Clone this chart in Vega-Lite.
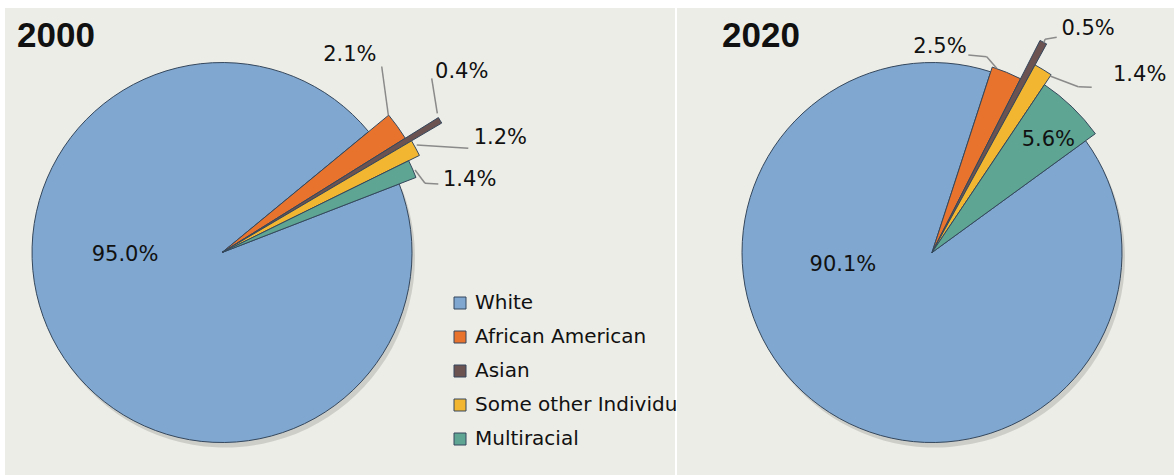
{
  "$schema": "https://vega.github.io/schema/vega-lite/v6.json",
  "background": "#ffffff",
  "padding": {"left": 5, "top": 8, "right": 0, "bottom": 0},
  "bounds": "flush",
  "spacing": 2,
  "config": {
    "view": {"fill": "#EDEDE7", "stroke": null},
    "font": "DejaVu Sans"
  },
  "datasets": {
    "race": [
      {"year": "2000", "race": "White", "pct": 95.0, "order": 1},
      {"year": "2000", "race": "African American", "pct": 2.1, "order": 2},
      {"year": "2000", "race": "Asian", "pct": 0.4, "order": 3},
      {"year": "2000", "race": "Some other Individuals", "pct": 1.2, "order": 4},
      {"year": "2000", "race": "Multiracial", "pct": 1.4, "order": 5},
      {"year": "2020", "race": "White", "pct": 90.1, "order": 1},
      {"year": "2020", "race": "African American", "pct": 2.5, "order": 2},
      {"year": "2020", "race": "Asian", "pct": 0.5, "order": 3},
      {"year": "2020", "race": "Some other Individuals", "pct": 1.4, "order": 4},
      {"year": "2020", "race": "Multiracial", "pct": 5.6, "order": 5}
    ]
  },
  "resolve": {"legend": {"color": "independent"}, "scale": {"theta": "independent", "x": "independent", "y": "independent"}},
  "hconcat": [
    {
      "width": 670,
      "height": 467,
      "data": {"name": "race"},
      "transform": [
        {"filter": "datum.year == '2000'"},
        {"stack": "pct", "groupby": ["year"], "sort": [{"field": "order", "order": "ascending"}], "as": ["s0", "s1"]},
        {"calculate": "(datum.s0 + datum.s1) / 2", "as": "mid"},
        {"calculate": "format(datum.pct, '.1f') + '%'", "as": "label"}
      ],
      "encoding": {
        "x": {"field": "year", "type": "nominal", "scale": {"type": "point", "padding": 0, "align": 0.3239}, "axis": null},
        "y": {"field": "year", "type": "nominal", "scale": {"type": "point", "padding": 0, "align": 0.5236}, "axis": null}
      },
      "layer": [
        {
          "transform": [{"filter": "datum.race == 'White'"}],
          "mark": {"type": "arc", "radius": 190, "fill": "#000000", "opacity": 0.13, "xOffset": 3, "yOffset": 5},
          "encoding": {
            "theta": {"field": "s0", "type": "quantitative", "stack": null, "scale": {"domain": [0, 100.1], "range": [1.2015, 7.4847]}},
            "theta2": {"field": "s1"}
          }
        },
        {
          "transform": [{"filter": "datum.race == 'White'"}],
          "mark": {"type": "arc", "radius": 190, "stroke": "#34475c", "strokeWidth": 1},
          "encoding": {
            "theta": {"field": "s0", "type": "quantitative", "stack": null, "scale": {"domain": [0, 100.1], "range": [1.2015, 7.4847]}},
            "theta2": {"field": "s1"},
            "color": {"field": "race", "type": "nominal", "scale": {"domain": ["White", "African American", "Asian", "Some other Individuals", "Multiracial"], "range": ["#7FA7D0", "#E8732C", "#6B5352", "#F2B631", "#5EA593"]},
              "legend": {"orient": "none", "legendX": 445, "legendY": 285, "title": null, "symbolType": "square", "symbolSize": 144, "labelFontSize": 20, "labelFont": "DejaVu Sans", "labelColor": "#111111", "rowPadding": 14, "labelLimit": 500, "labelOffset": 5, "symbolStrokeColor": "#777777", "symbolStrokeWidth": 1}}
          }
        },
        {
          "transform": [{"filter": "datum.race == 'African American'"}],
          "mark": {"type": "arc", "radius": 216, "stroke": "#34475c", "strokeWidth": 1},
          "encoding": {
            "theta": {"field": "s0", "type": "quantitative", "stack": null, "scale": {"domain": [0, 100.1], "range": [1.2015, 7.4847]}},
            "theta2": {"field": "s1"},
            "color": {"field": "race", "type": "nominal"}
          }
        },
        {
          "transform": [{"filter": "datum.race == 'Asian'"}],
          "mark": {"type": "arc", "radius": 255, "stroke": "#34475c", "strokeWidth": 1},
          "encoding": {
            "theta": {"field": "s0", "type": "quantitative", "stack": null, "scale": {"domain": [0, 100.1], "range": [1.2015, 7.4847]}},
            "theta2": {"field": "s1"},
            "color": {"field": "race", "type": "nominal"}
          }
        },
        {
          "transform": [{"filter": "datum.race == 'Some other Individuals'"}],
          "mark": {"type": "arc", "radius": 220, "stroke": "#34475c", "strokeWidth": 1},
          "encoding": {
            "theta": {"field": "s0", "type": "quantitative", "stack": null, "scale": {"domain": [0, 100.1], "range": [1.2015, 7.4847]}},
            "theta2": {"field": "s1"},
            "color": {"field": "race", "type": "nominal"}
          }
        },
        {
          "transform": [{"filter": "datum.race == 'Multiracial'"}],
          "mark": {"type": "arc", "radius": 208, "stroke": "#34475c", "strokeWidth": 1},
          "encoding": {
            "theta": {"field": "s0", "type": "quantitative", "stack": null, "scale": {"domain": [0, 100.1], "range": [1.2015, 7.4847]}},
            "theta2": {"field": "s1"},
            "color": {"field": "race", "type": "nominal"}
          }
        },
        {
          "transform": [{"filter": "datum.race == 'White'"}],
          "mark": {"type": "rule", "color": "#8a8a8a", "strokeWidth": 1.5, "xOffset": 159.7, "yOffset": -186, "x2Offset": 166.3, "y2Offset": -137.5},
          "encoding": {"x2": {"field": "year"}, "y2": {"field": "year"}}
        },
        {
          "transform": [{"filter": "datum.race == 'White'"}],
          "mark": {"type": "rule", "color": "#8a8a8a", "strokeWidth": 1.5, "xOffset": 209.7, "yOffset": -174.2, "x2Offset": 215.3, "y2Offset": -139.2},
          "encoding": {"x2": {"field": "year"}, "y2": {"field": "year"}}
        },
        {
          "transform": [{"filter": "datum.race == 'White'"}],
          "mark": {"type": "rule", "color": "#8a8a8a", "strokeWidth": 1.5, "xOffset": 246.3, "yOffset": -104.2, "x2Offset": 194.7, "y2Offset": -107.5},
          "encoding": {"x2": {"field": "year"}, "y2": {"field": "year"}}
        },
        {
          "transform": [{"filter": "datum.race == 'White'"}],
          "mark": {"type": "rule", "color": "#8a8a8a", "strokeWidth": 1.5, "xOffset": 216.3, "yOffset": -68.5, "x2Offset": 203, "y2Offset": -69.2},
          "encoding": {"x2": {"field": "year"}, "y2": {"field": "year"}}
        },
        {
          "transform": [{"filter": "datum.race == 'White'"}],
          "mark": {"type": "rule", "color": "#8a8a8a", "strokeWidth": 1.5, "xOffset": 203, "yOffset": -69.2, "x2Offset": 193, "y2Offset": -82.5},
          "encoding": {"x2": {"field": "year"}, "y2": {"field": "year"}}
        },
        {
          "transform": [{"filter": "datum.race == 'White'"}],
          "mark": {"type": "text", "radius": 97, "thetaOffset": 0.503, "fontSize": 21, "color": "#111111", "align": "center", "baseline": "middle"},
          "encoding": {"theta": {"field": "mid", "type": "quantitative", "scale": {"domain": [0, 100.1], "range": [1.2015, 7.4847]}}, "text": {"field": "label"}}
        },
        {
          "transform": [{"filter": "datum.race == 'African American'"}],
          "mark": {"type": "text", "radius": 235, "thetaOffset": -0.372, "fontSize": 21, "color": "#111111", "align": "center", "baseline": "middle"},
          "encoding": {"theta": {"field": "mid", "type": "quantitative", "scale": {"domain": [0, 100.1], "range": [1.2015, 7.4847]}}, "text": {"field": "label"}}
        },
        {
          "transform": [{"filter": "datum.race == 'Asian'"}],
          "mark": {"type": "text", "radius": 300, "thetaOffset": -0.1, "fontSize": 21, "color": "#111111", "align": "center", "baseline": "middle"},
          "encoding": {"theta": {"field": "mid", "type": "quantitative", "scale": {"domain": [0, 100.1], "range": [1.2015, 7.4847]}}, "text": {"field": "label"}}
        },
        {
          "transform": [{"filter": "datum.race == 'Some other Individuals'"}],
          "mark": {"type": "text", "radius": 301, "thetaOffset": 0.104, "fontSize": 21, "color": "#111111", "align": "center", "baseline": "middle"},
          "encoding": {"theta": {"field": "mid", "type": "quantitative", "scale": {"domain": [0, 100.1], "range": [1.2015, 7.4847]}}, "text": {"field": "label"}}
        },
        {
          "transform": [{"filter": "datum.race == 'Multiracial'"}],
          "mark": {"type": "text", "radius": 258, "thetaOffset": 0.129, "fontSize": 21, "color": "#111111", "align": "center", "baseline": "middle"},
          "encoding": {"theta": {"field": "mid", "type": "quantitative", "scale": {"domain": [0, 100.1], "range": [1.2015, 7.4847]}}, "text": {"field": "label"}}
        },
        {
          "transform": [{"filter": "datum.race == 'White'"}],
          "mark": {"type": "text", "font": "Liberation Sans", "fontSize": 35, "fontWeight": "bold", "color": "#111111", "align": "left", "baseline": "alphabetic", "dx": -205, "dy": -205.5},
          "encoding": {"text": {"field": "year"}}
        }
      ]
    },
    {
      "width": 497,
      "height": 467,
      "data": {"name": "race"},
      "transform": [
        {"filter": "datum.year == '2020'"},
        {"stack": "pct", "groupby": ["year"], "sort": [{"field": "order", "order": "ascending"}], "as": ["s0", "s1"]},
        {"calculate": "(datum.s0 + datum.s1) / 2", "as": "mid"},
        {"calculate": "format(datum.pct, '.1f') + '%'", "as": "label"}
      ],
      "encoding": {
        "x": {"field": "year", "type": "nominal", "scale": {"type": "point", "padding": 0, "align": 0.5131}, "axis": null},
        "y": {"field": "year", "type": "nominal", "scale": {"type": "point", "padding": 0, "align": 0.5236}, "axis": null}
      },
      "layer": [
        {
          "transform": [{"filter": "datum.race == 'White'"}],
          "mark": {"type": "arc", "radius": 190, "fill": "#000000", "opacity": 0.13, "xOffset": 3, "yOffset": 5},
          "encoding": {
            "theta": {"field": "s0", "type": "quantitative", "stack": null, "scale": {"domain": [0, 100.1], "range": [0.9418, 7.225]}},
            "theta2": {"field": "s1"}
          }
        },
        {
          "transform": [{"filter": "datum.race == 'White'"}],
          "mark": {"type": "arc", "radius": 190, "stroke": "#34475c", "strokeWidth": 1},
          "encoding": {
            "theta": {"field": "s0", "type": "quantitative", "stack": null, "scale": {"domain": [0, 100.1], "range": [0.9418, 7.225]}},
            "theta2": {"field": "s1"},
            "color": {"field": "race", "type": "nominal", "scale": {"domain": ["White", "African American", "Asian", "Some other Individuals", "Multiracial"], "range": ["#7FA7D0", "#E8732C", "#6B5352", "#F2B631", "#5EA593"]}, "legend": null}
          }
        },
        {
          "transform": [{"filter": "datum.race == 'African American'"}],
          "mark": {"type": "arc", "radius": 195, "stroke": "#34475c", "strokeWidth": 1},
          "encoding": {
            "theta": {"field": "s0", "type": "quantitative", "stack": null, "scale": {"domain": [0, 100.1], "range": [0.9418, 7.225]}},
            "theta2": {"field": "s1"},
            "color": {"field": "race", "type": "nominal", "legend": null}
          }
        },
        {
          "transform": [{"filter": "datum.race == 'Asian'"}],
          "mark": {"type": "arc", "radius": 238, "stroke": "#34475c", "strokeWidth": 1},
          "encoding": {
            "theta": {"field": "s0", "type": "quantitative", "stack": null, "scale": {"domain": [0, 100.1], "range": [0.9418, 7.225]}},
            "theta2": {"field": "s1"},
            "color": {"field": "race", "type": "nominal", "legend": null}
          }
        },
        {
          "transform": [{"filter": "datum.race == 'Some other Individuals'"}],
          "mark": {"type": "arc", "radius": 214, "stroke": "#34475c", "strokeWidth": 1},
          "encoding": {
            "theta": {"field": "s0", "type": "quantitative", "stack": null, "scale": {"domain": [0, 100.1], "range": [0.9418, 7.225]}},
            "theta2": {"field": "s1"},
            "color": {"field": "race", "type": "nominal", "legend": null}
          }
        },
        {
          "transform": [{"filter": "datum.race == 'Multiracial'"}],
          "mark": {"type": "arc", "radius": 202, "stroke": "#34475c", "strokeWidth": 1},
          "encoding": {
            "theta": {"field": "s0", "type": "quantitative", "stack": null, "scale": {"domain": [0, 100.1], "range": [0.9418, 7.225]}},
            "theta2": {"field": "s1"},
            "color": {"field": "race", "type": "nominal", "legend": null}
          }
        },
        {
          "transform": [{"filter": "datum.race == 'White'"}],
          "mark": {"type": "rule", "color": "#8a8a8a", "strokeWidth": 1.5, "xOffset": 36.3, "yOffset": -197.5, "x2Offset": 54.7, "y2Offset": -195.8},
          "encoding": {"x2": {"field": "year"}, "y2": {"field": "year"}}
        },
        {
          "transform": [{"filter": "datum.race == 'White'"}],
          "mark": {"type": "rule", "color": "#8a8a8a", "strokeWidth": 1.5, "xOffset": 54.7, "yOffset": -195.8, "x2Offset": 64.7, "y2Offset": -184.2},
          "encoding": {"x2": {"field": "year"}, "y2": {"field": "year"}}
        },
        {
          "transform": [{"filter": "datum.race == 'White'"}],
          "mark": {"type": "rule", "color": "#8a8a8a", "strokeWidth": 1.5, "xOffset": 124.7, "yOffset": -215.2, "x2Offset": 113, "y2Offset": -213.2},
          "encoding": {"x2": {"field": "year"}, "y2": {"field": "year"}}
        },
        {
          "transform": [{"filter": "datum.race == 'White'"}],
          "mark": {"type": "rule", "color": "#8a8a8a", "strokeWidth": 1.5, "xOffset": 113, "yOffset": -213.2, "x2Offset": 112, "y2Offset": -210},
          "encoding": {"x2": {"field": "year"}, "y2": {"field": "year"}}
        },
        {
          "transform": [{"filter": "datum.race == 'White'"}],
          "mark": {"type": "rule", "color": "#8a8a8a", "strokeWidth": 1.5, "xOffset": 159.7, "yOffset": -165.2, "x2Offset": 146.3, "y2Offset": -165.8},
          "encoding": {"x2": {"field": "year"}, "y2": {"field": "year"}}
        },
        {
          "transform": [{"filter": "datum.race == 'White'"}],
          "mark": {"type": "rule", "color": "#8a8a8a", "strokeWidth": 1.5, "xOffset": 146.3, "yOffset": -165.8, "x2Offset": 118, "y2Offset": -176.5},
          "encoding": {"x2": {"field": "year"}, "y2": {"field": "year"}}
        },
        {
          "transform": [{"filter": "datum.race == 'White'"}],
          "mark": {"type": "text", "radius": 90, "thetaOffset": 0.803, "fontSize": 21, "color": "#111111", "align": "center", "baseline": "middle"},
          "encoding": {"theta": {"field": "mid", "type": "quantitative", "scale": {"domain": [0, 100.1], "range": [0.9418, 7.225]}}, "text": {"field": "label"}}
        },
        {
          "transform": [{"filter": "datum.race == 'African American'"}],
          "mark": {"type": "text", "radius": 206, "thetaOffset": -0.354, "fontSize": 21, "color": "#111111", "align": "center", "baseline": "middle"},
          "encoding": {"theta": {"field": "mid", "type": "quantitative", "scale": {"domain": [0, 100.1], "range": [0.9418, 7.225]}}, "text": {"field": "label"}}
        },
        {
          "transform": [{"filter": "datum.race == 'Asian'"}],
          "mark": {"type": "text", "radius": 273, "thetaOffset": 0.122, "fontSize": 21, "color": "#111111", "align": "center", "baseline": "middle"},
          "encoding": {"theta": {"field": "mid", "type": "quantitative", "scale": {"domain": [0, 100.1], "range": [0.9418, 7.225]}}, "text": {"field": "label"}}
        },
        {
          "transform": [{"filter": "datum.race == 'Some other Individuals'"}],
          "mark": {"type": "text", "radius": 273, "thetaOffset": 0.318, "fontSize": 21, "color": "#111111", "align": "center", "baseline": "middle"},
          "encoding": {"theta": {"field": "mid", "type": "quantitative", "scale": {"domain": [0, 100.1], "range": [0.9418, 7.225]}}, "text": {"field": "label"}}
        },
        {
          "transform": [{"filter": "datum.race == 'Multiracial'"}],
          "mark": {"type": "text", "radius": 162, "thetaOffset": 0.035, "fontSize": 21, "color": "#111111", "align": "center", "baseline": "middle"},
          "encoding": {"theta": {"field": "mid", "type": "quantitative", "scale": {"domain": [0, 100.1], "range": [0.9418, 7.225]}}, "text": {"field": "label"}}
        },
        {
          "transform": [{"filter": "datum.race == 'White'"}],
          "mark": {"type": "text", "font": "Liberation Sans", "fontSize": 35, "fontWeight": "bold", "color": "#111111", "align": "left", "baseline": "alphabetic", "dx": -210, "dy": -205.5},
          "encoding": {"text": {"field": "year"}}
        }
      ]
    }
  ]
}
